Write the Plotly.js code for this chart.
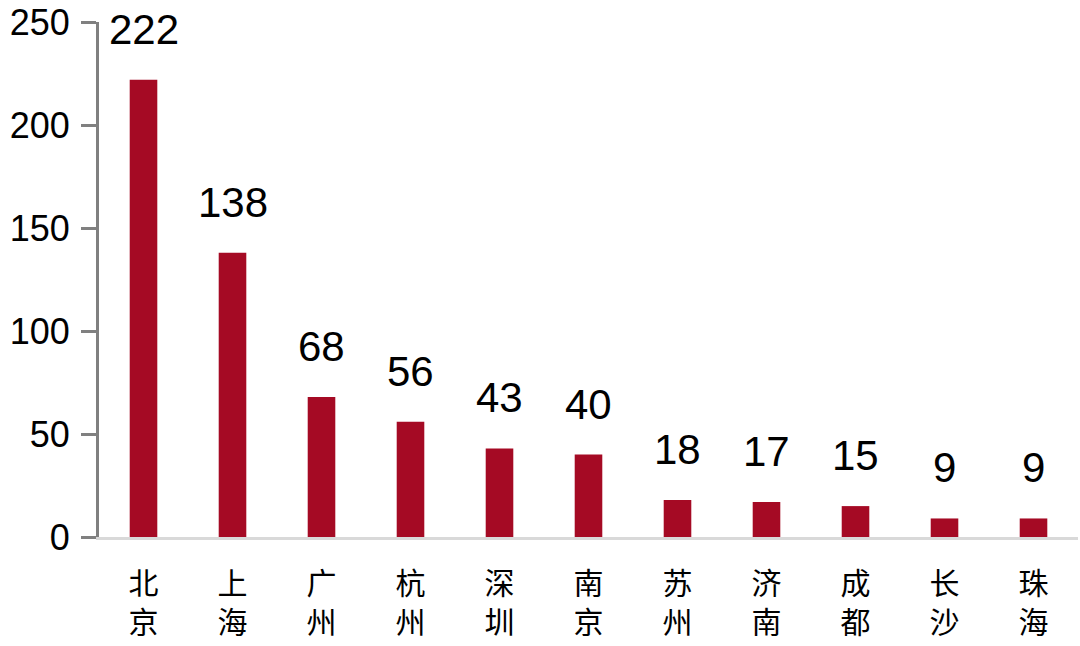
<!DOCTYPE html>
<html>
<head>
<meta charset="utf-8">
<script src="https://cdn.plot.ly/plotly-3.0.1.min.js"></script>
<style>
  html, body { margin: 0; padding: 0; background: #fff; }
  #chart { width: 1080px; height: 646px; }
</style>
</head>
<body>
<div id="chart"></div>
<script>
// City names (two characters stacked) and counts
const cities = ['北<br>京', '上<br>海', '广<br>州', '杭<br>州', '深<br>圳', '南<br>京',
                '苏<br>州', '济<br>南', '成<br>都', '长<br>沙', '珠<br>海'];
const counts = [222, 138, 68, 56, 43, 40, 18, 17, 15, 9, 9];
const yTicks = [0, 50, 100, 150, 200, 250];

const barColor = '#A50A24';

var bars = {
  x: cities,
  y: counts,
  type: 'bar',
  marker: { color: barColor },
  width: 0.31,
  hoverinfo: 'none'
};

// value labels above each bar
var labels = cities.map((c, i) => ({
  x: c,
  y: counts[i],
  text: String(counts[i]),
  showarrow: false,
  xanchor: 'center',
  yanchor: 'bottom',
  yshift: 25,
  font: { family: 'Liberation Sans, Arial, sans-serif', size: 42, color: '#000' }
}));

var layout = {
  width: 1080,
  height: 646,
  margin: { l: 99, r: 2, t: 22, b: 109 },
  paper_bgcolor: '#fff',
  plot_bgcolor: '#fff',
  showlegend: false,
  xaxis: {
    type: 'category',
    showline: true,
    linecolor: '#d9d9d9',
    linewidth: 3,
    ticks: '',
    showgrid: false,
    zeroline: false,
    ticklabelstandoff: 18,
    tickfont: { family: 'Noto Sans CJK SC, sans-serif', size: 30, color: '#000' }
  },
  yaxis: {
    range: [0, 250],
    tickvals: yTicks,
    ticktext: yTicks.map(String),
    showline: true,
    linecolor: '#808080',
    linewidth: 3,
    ticks: 'outside',
    ticklen: 15,
    tickwidth: 3,
    tickcolor: '#808080',
    showgrid: false,
    zeroline: false,
    ticklabelstandoff: 4,
    tickfont: { family: 'Liberation Sans, Arial, sans-serif', size: 36, color: '#000' }
  },
  annotations: labels
};

Plotly.newPlot('chart', [bars], layout, { displayModeBar: false, staticPlot: true });
</script>
</body>
</html>
